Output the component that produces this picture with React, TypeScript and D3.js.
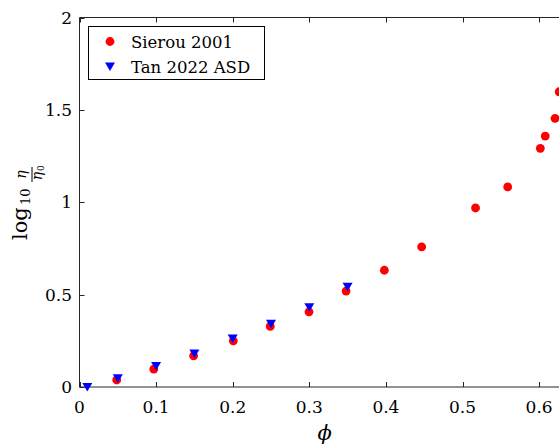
import React from "react";
import * as d3 from "d3";

const sierouPhi = [0.0486, 0.097, 0.149, 0.2008, 0.249, 0.2996, 0.348, 0.398, 0.4467, 0.517, 0.559, 0.6016, 0.608, 0.6208, 0.6262];
const sierouVal = [0.038, 0.097, 0.169, 0.25, 0.328, 0.407, 0.519, 0.632, 0.758, 0.969, 1.083, 1.292, 1.358, 1.454, 1.598];
const tanPhi = [0.0102, 0.05, 0.1, 0.15, 0.2, 0.25, 0.3, 0.35];
const tanVal = [0.0, 0.047, 0.113, 0.182, 0.263, 0.342, 0.431, 0.542];
const xTicks = [0, 0.1, 0.2, 0.3, 0.4, 0.5, 0.6];
const yTicks = [0, 0.5, 1, 1.5, 2];
const seriesNames = ["Sierou 2001", "Tan 2022 ASD"];

const W = 559, H = 447;
const left = 79.5, top = 17.5, bottom = 387;
const font = "DejaVu Serif, Liberation Serif, serif";

export default function App() {
  const x = d3.scaleLinear().domain([0, 0.64]).range([left, left + 0.64 * 766]);
  const y = d3.scaleLinear().domain([0, 2]).range([bottom, top]);
  const right = x(0.64);
  const axisColor = "#262626";
  const tri = (cx: number, cy: number) => `M${cx - 5},${cy - 4} L${cx + 5},${cy - 4} L${cx},${cy + 4.5} Z`;

  return (
    <svg width={W} height={H} style={{ position: "absolute", left: 0, top: 0, background: "#fff" }}>
      <defs>
        <clipPath id="clip"><rect x={0} y={0} width={W} height={H} /></clipPath>
      </defs>
      <line x1={left} x2={right} y1={bottom} y2={bottom} stroke={axisColor} strokeWidth={1} />
      <line x1={left} x2={right} y1={top} y2={top} stroke={axisColor} strokeWidth={1} />
      <line x1={left} x2={left} y1={top} y2={bottom} stroke={axisColor} strokeWidth={1} />
      {xTicks.map((t) => (
        <g key={"x" + t}>
          <line x1={Math.round(x(t)) + 0.5} x2={Math.round(x(t)) + 0.5} y1={bottom} y2={bottom - 5} stroke={axisColor} />
          <line x1={Math.round(x(t)) + 0.5} x2={Math.round(x(t)) + 0.5} y1={top} y2={top + 5} stroke={axisColor} />
          <text x={x(t)} y={413} textAnchor="middle" fontFamily={font} fontSize={17} fill="#000">{String(t)}</text>
        </g>
      ))}
      {yTicks.map((t) => (
        <g key={"y" + t}>
          <line x1={left} x2={left + 5} y1={Math.round(y(t)) + 0.5} y2={Math.round(y(t)) + 0.5} stroke={axisColor} />
          <text x={72} y={y(t) + 6} textAnchor="end" fontFamily={font} fontSize={17} fill="#000">{String(t)}</text>
        </g>
      ))}
      <g clipPath="url(#clip)">
        {sierouPhi.map((p, i) => (
          <circle key={"s" + i} cx={x(p)} cy={y(sierouVal[i])} r={4.4} fill="#ff0000" />
        ))}
        {tanPhi.map((p, i) => (
          <path key={"t" + i} d={tri(x(p), y(tanVal[i]))} fill="#0000ff" />
        ))}
      </g>
      <rect x={88.5} y={26.5} width={176} height={53} fill="#fff" stroke="#000" strokeWidth={1} />
      <circle cx={110} cy={41.5} r={4.4} fill="#ff0000" />
      <text x={131} y={47.5} fontFamily={font} fontSize={16.5} fill="#000">{seriesNames[0]}</text>
      <path d={tri(110, 66.5)} fill="#0000ff" />
      <text x={131} y={72.5} fontFamily={font} fontSize={16.5} fill="#000">{seriesNames[1]}</text>
      <text x={(left + right) / 2} y={440} textAnchor="middle" fontFamily={font} fontSize={21} fontStyle="italic" fill="#000">ϕ</text>
      <g transform="translate(27,240) rotate(-90)">
        <text x={0} y={0} fontFamily={font} fontSize={21} fill="#000">log</text>
        <text x={35} y={3} fontFamily={font} fontSize={13} fill="#000">10</text>
        <text x={65.5} y={-1} textAnchor="middle" fontFamily={font} fontSize={14} fontStyle="italic" fill="#000">η</text>
        <line x1={58} x2={73} y1={5} y2={5} stroke="#000" strokeWidth={1} />
        <text x={64} y={15} textAnchor="middle" fontFamily={font} fontSize={14} fontStyle="italic" fill="#000">η</text>
        <text x={69} y={17} fontFamily={font} fontSize={9} fill="#000">0</text>
      </g>
    </svg>
  );
}
